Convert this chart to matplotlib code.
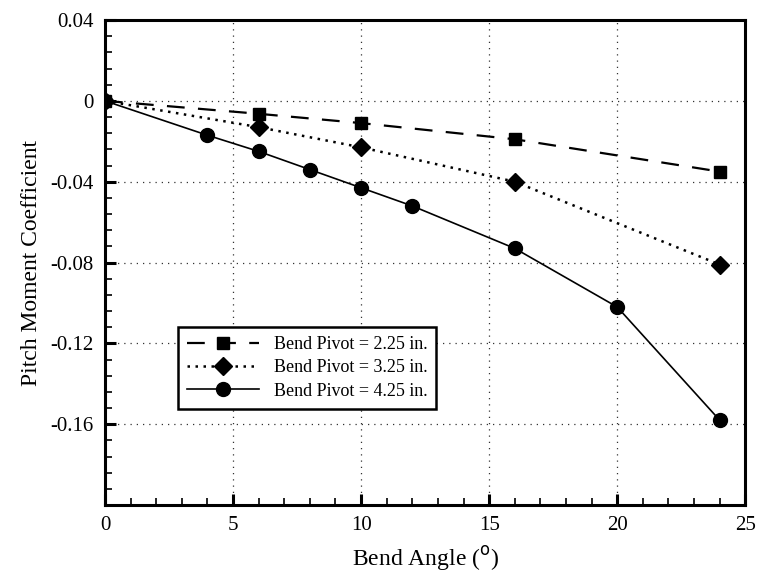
import matplotlib
matplotlib.use("Agg")
import matplotlib.pyplot as plt
from matplotlib.ticker import MultipleLocator

plt.rcParams["font.family"] = ["Liberation Serif", "DejaVu Serif"]

# bend angle (deg) and pitch moment coefficient
ang_225 = [0, 6, 10, 16, 24]
cm_225 = [0.0, -0.0064, -0.011, -0.019, -0.035]

ang_325 = [0, 6, 10, 16, 24]
cm_325 = [0.0, -0.013, -0.023, -0.040, -0.081]

ang_425 = [0, 4, 6, 8, 10, 12, 16, 20, 24]
cm_425 = [0.0, -0.017, -0.025, -0.034, -0.043, -0.052, -0.073, -0.102, -0.158]

labels = ["Bend Pivot = 2.25 in.", "Bend Pivot = 3.25 in.", "Bend Pivot = 4.25 in."]

fig = plt.figure(figsize=(7.66, 5.72), dpi=100)
ax = fig.add_axes([0.137, 0.117, 0.836, 0.848])

ax.plot(ang_225, cm_225, color="black", lw=1.6, ls=(0, (8, 6)),
        marker="s", ms=8, label=labels[0])
ax.plot(ang_325, cm_325, color="black", lw=1.8, ls=(0, (1, 2.2)),
        marker="D", ms=9, label=labels[1])
ax.plot(ang_425, cm_425, color="black", lw=1.2, ls="-",
        marker="o", ms=10, label=labels[2])

ax.set_xlim(0, 25)
ax.set_ylim(-0.2, 0.04)
ax.set_xticks([0, 5, 10, 15, 20, 25])
ax.set_yticks([0.04, 0, -0.04, -0.08, -0.12, -0.16])
ax.set_yticklabels(["0.04", "0", "-0.04", "-0.08", "-0.12", "-0.16"])
ax.xaxis.set_minor_locator(MultipleLocator(1))
ax.yaxis.set_minor_locator(MultipleLocator(0.008))
ax.tick_params(which="both", direction="in", top=False, right=False,
               labelsize=15, pad=8)
ax.tick_params(which="major", length=8, width=2.2)
ax.tick_params(which="minor", length=5, width=1.2)

for s in ax.spines.values():
    s.set_linewidth(2.2)

# sparse dotted grid at the major ticks
for x in [5, 10, 15, 20]:
    ax.plot([x, x], [-0.2, 0.04], color="0.2", lw=0.9, ls=(0, (1, 4)), zorder=0)
for y in [0, -0.04, -0.08, -0.12, -0.16]:
    ax.plot([0, 25], [y, y], color="0.2", lw=0.9, ls=(0, (1, 4)), zorder=0)

ax.set_xlabel("Bend Angle ($^{\\rm o}$)", fontsize=17, labelpad=6)
ax.set_ylabel("Pitch Moment Coefficient", fontsize=17, labelpad=6)

leg = ax.legend(loc="lower left", bbox_to_anchor=(0.1, 0.18), fontsize=13,
                frameon=True, fancybox=False, edgecolor="black",
                handlelength=4.0, borderpad=0.5, labelspacing=0.35,
                framealpha=1)
leg.get_frame().set_linewidth(1.8)

fig.savefig("out.png", dpi=100)
